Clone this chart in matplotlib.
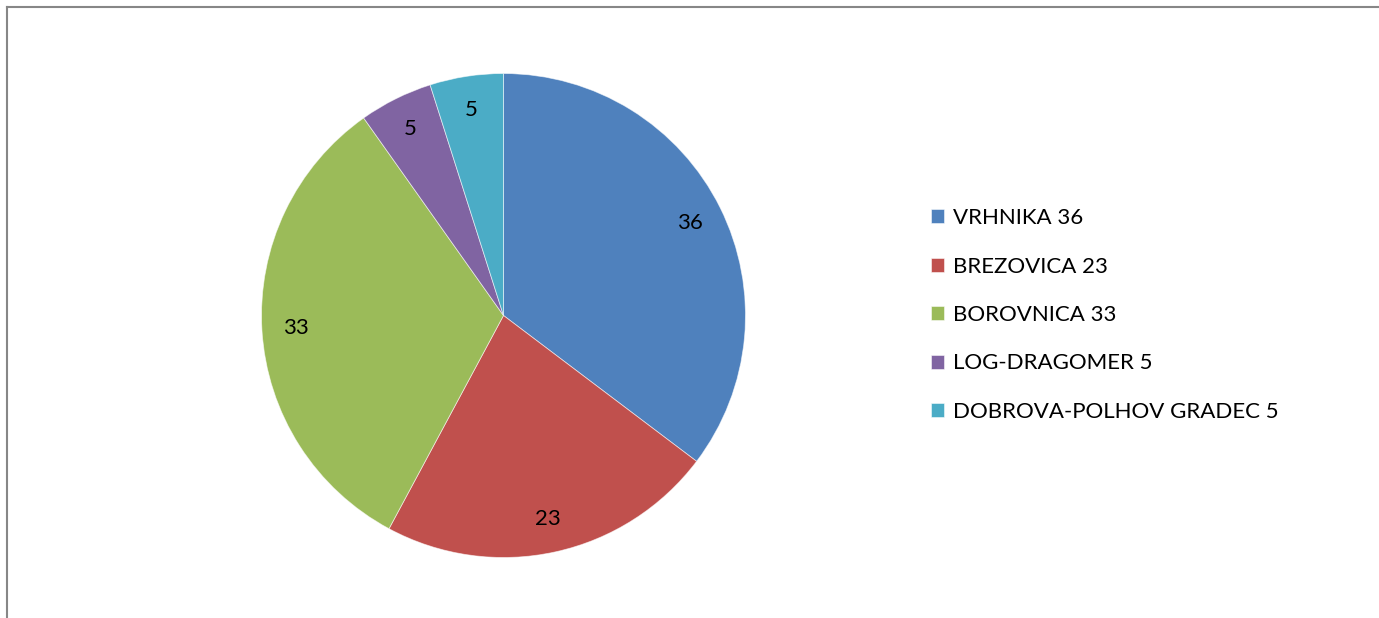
import matplotlib
matplotlib.use("Agg")
import matplotlib.pyplot as plt
from matplotlib.lines import Line2D

names = ["VRHNIKA", "BREZOVICA", "BOROVNICA", "LOG-DRAGOMER", "DOBROVA-POLHOV GRADEC"]
values = [36, 23, 33, 5, 5]
colors = ["#4F81BD", "#C0504D", "#9BBB59", "#8064A2", "#4BACC6"]

plt.rcParams['font.family'] = ['Lato', 'DejaVu Sans']

W, H = 1379, 618
fig = plt.figure(figsize=(W / 100, H / 100), dpi=100)

cx, cy, r = 503.5, 315.5, 242
ax = fig.add_axes([(cx - r) / W, (H - cy - r) / H, 2 * r / W, 2 * r / H])
wedges, texts = ax.pie(values, colors=colors, startangle=90, counterclock=False,
                       labels=[str(v) for v in values], labeldistance=0.86,
                       wedgeprops=dict(edgecolor=(1, 1, 1, 0.6), linewidth=0.6),
                       textprops=dict(fontsize=16, color="black", ha="center", va="center"))
for t in texts:
    t.set_ha("center")
    t.set_va("center")
ax.set_xlim(-1, 1)
ax.set_ylim(-1, 1)
ax.set_aspect("equal")
ax.axis("off")

labels = [f"{n} {v}" for n, v in zip(names, values)]
fig.legend(wedges, labels, loc="center left", bbox_to_anchor=(931 / W, 1 - 315 / H),
           frameon=False, fontsize=16, handlelength=0.59, handleheight=0.59,
           handletextpad=0.4, labelspacing=1.28, borderpad=0, borderaxespad=0)

# frame border (left and top)
bc = "#878787"
fig.add_artist(Line2D([6.5 / W, 6.5 / W], [0, 1 - 6.5 / H], color=bc, linewidth=1.5,
                      transform=fig.transFigure, solid_capstyle="projecting"))
fig.add_artist(Line2D([6.5 / W, 1], [1 - 6.5 / H, 1 - 6.5 / H], color=bc, linewidth=1.5,
                      transform=fig.transFigure, solid_capstyle="projecting"))

fig.savefig("out.png", dpi=100)
